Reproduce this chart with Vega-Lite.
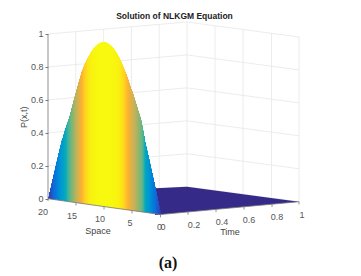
{"$schema":"https://vega.github.io/schema/vega-lite/v6.json","width":313,"height":252,"autosize":{"type":"none"},"padding":{"left":48,"top":24,"right":0,"bottom":0},"background":"white","view":{"stroke":null},
"title":{"text":"Solution of NLKGM Equation","anchor":"middle","dx":-30,"offset":1,"font":"Liberation Sans","fontSize":8.5,"fontWeight":"bold","color":"#222222"},
"datasets":{
"grid":[{"x":48,"x2":187,"v":0,"v2":0.0729},{"x":48,"x2":187,"v":0.2,"v2":0.2729},{"x":48,"x2":187,"v":0.4,"v2":0.4729},{"x":48,"x2":187,"v":0.6,"v2":0.6729},{"x":48,"x2":187,"v":0.8,"v2":0.8729},{"x":48,"x2":187,"v":1,"v2":1.0729},
{"x":187,"x2":299,"v":0.0729,"v2":-0.0182},{"x":187,"x2":299,"v":0.2729,"v2":0.1818},{"x":187,"x2":299,"v":0.4729,"v2":0.3818},{"x":187,"x2":299,"v":0.6729,"v2":0.5818},{"x":187,"x2":299,"v":0.8729,"v2":0.7818},{"x":187,"x2":299,"v":1.0729,"v2":0.9818},
{"x":75.8,"x2":75.8,"v":0.0146,"v2":1.0146},{"x":103.6,"x2":103.6,"v":0.0292,"v2":1.0292},{"x":131.4,"x2":131.4,"v":0.0437,"v2":1.0437},{"x":159.2,"x2":159.2,"v":0.0583,"v2":1.0583},{"x":187,"x2":187,"v":0.0729,"v2":1.0729},
{"x":215,"x2":215,"v":0.0501,"v2":1.0501},{"x":243,"x2":243,"v":0.0274,"v2":1.0274},{"x":271.5,"x2":271.5,"v":0.0046,"v2":1.0046},{"x":299,"x2":299,"v":-0.0182,"v2":0.9818}],
"floor":[{"x":155,"v":0.0632,"v2":-0.099},{"x":187,"v":0.0729,"v2":-0.0808},{"x":299,"v":-0.0182,"v2":-0.0182}],
"axes":[{"x":48,"x2":48,"v":0,"v2":1},{"x":48,"x2":160.5,"v":0,"v2":-0.096},{"x":160.5,"x2":299,"v":-0.096,"v2":-0.0182},
{"x":48,"x2":48,"v":0,"v2":-0.014},{"x":76,"x2":76,"v":-0.024,"v2":-0.041},{"x":104,"x2":104,"v":-0.048,"v2":-0.065},{"x":132,"x2":132,"v":-0.072,"v2":-0.089},{"x":160.5,"x2":160.5,"v":-0.096,"v2":-0.113},
{"x":188,"x2":188,"v":-0.0803,"v2":-0.0973},{"x":216,"x2":216,"v":-0.0647,"v2":-0.0817},{"x":244,"x2":244,"v":-0.049,"v2":-0.066},{"x":272,"x2":272,"v":-0.0334,"v2":-0.0504},{"x":299,"x2":299,"v":-0.0182,"v2":-0.0352}],
"ticks":[{"x":43,"v":-0.0808,"t":"20"},{"x":72,"v":-0.1032,"t":"15"},{"x":100,"v":-0.1233,"t":"10"},{"x":130,"v":-0.1475,"t":"5"},{"x":159.5,"v":-0.1718,"t":"0"},{"x":163,"v":-0.1718,"t":"0"},{"x":194,"v":-0.1597,"t":"0.2"},{"x":222,"v":-0.1415,"t":"0.4"},{"x":249,"v":-0.1263,"t":"0.6"},{"x":277,"v":-0.1111,"t":"0.8"},{"x":302,"v":-0.099,"t":"1"}],
"names":[{"x":98,"v":-0.196,"t":"Space"},{"x":230,"v":-0.2022,"t":"Time"}],
"cap":[{"x":168,"v":-0.3904,"t":"(a)"}],
"face":[
{"x":48,"x2":49,"p":0.014,"v":0.014,"v2":0},{"x":49,"x2":50,"p":0.042,"v":0.041,"v2":-0.001},{"x":50,"x2":51,"p":0.069,"v":0.067,"v2":-0.002},{"x":51,"x2":52,"p":0.097,"v":0.094,"v2":-0.003},{"x":52,"x2":53,"p":0.124,"v":0.12,"v2":-0.004},{"x":53,"x2":54,"p":0.152,"v":0.147,"v2":-0.005},{"x":54,"x2":55,"p":0.179,"v":0.173,"v2":-0.006},{"x":55,"x2":56,"p":0.206,"v":0.2,"v2":-0.006},{"x":56,"x2":57,"p":0.233,"v":0.226,"v2":-0.007},{"x":57,"x2":58,"p":0.26,"v":0.252,"v2":-0.008},
{"x":58,"x2":59,"p":0.287,"v":0.278,"v2":-0.009},{"x":59,"x2":60,"p":0.313,"v":0.303,"v2":-0.01},{"x":60,"x2":61,"p":0.339,"v":0.328,"v2":-0.011},{"x":61,"x2":62,"p":0.365,"v":0.353,"v2":-0.012},{"x":62,"x2":63,"p":0.381,"v":0.369,"v2":-0.012},{"x":63,"x2":64,"p":0.404,"v":0.391,"v2":-0.013},{"x":64,"x2":65,"p":0.426,"v":0.412,"v2":-0.014},{"x":65,"x2":66,"p":0.446,"v":0.431,"v2":-0.015},{"x":66,"x2":67,"p":0.465,"v":0.449,"v2":-0.016},{"x":67,"x2":68,"p":0.484,"v":0.467,"v2":-0.017},
{"x":68,"x2":69,"p":0.502,"v":0.484,"v2":-0.018},{"x":69,"x2":70,"p":0.521,"v":0.503,"v2":-0.018},{"x":70,"x2":71,"p":0.545,"v":0.526,"v2":-0.019},{"x":71,"x2":72,"p":0.571,"v":0.551,"v2":-0.02},{"x":72,"x2":73,"p":0.594,"v":0.573,"v2":-0.021},{"x":73,"x2":74,"p":0.619,"v":0.597,"v2":-0.022},{"x":74,"x2":75,"p":0.643,"v":0.62,"v2":-0.023},{"x":75,"x2":76,"p":0.666,"v":0.642,"v2":-0.024},{"x":76,"x2":77,"p":0.689,"v":0.665,"v2":-0.024},{"x":77,"x2":78,"p":0.711,"v":0.686,"v2":-0.025},
{"x":78,"x2":79,"p":0.734,"v":0.708,"v2":-0.026},{"x":79,"x2":80,"p":0.756,"v":0.729,"v2":-0.027},{"x":80,"x2":81,"p":0.778,"v":0.75,"v2":-0.028},{"x":81,"x2":82,"p":0.8,"v":0.771,"v2":-0.029},{"x":82,"x2":83,"p":0.816,"v":0.786,"v2":-0.03},{"x":83,"x2":84,"p":0.832,"v":0.802,"v2":-0.03},{"x":84,"x2":85,"p":0.847,"v":0.816,"v2":-0.031},{"x":85,"x2":86,"p":0.862,"v":0.83,"v2":-0.032},{"x":86,"x2":87,"p":0.875,"v":0.842,"v2":-0.033},{"x":87,"x2":88,"p":0.888,"v":0.854,"v2":-0.034},
{"x":88,"x2":89,"p":0.9,"v":0.865,"v2":-0.035},{"x":89,"x2":90,"p":0.912,"v":0.876,"v2":-0.036},{"x":90,"x2":91,"p":0.923,"v":0.887,"v2":-0.036},{"x":91,"x2":92,"p":0.934,"v":0.897,"v2":-0.037},{"x":92,"x2":93,"p":0.943,"v":0.905,"v2":-0.038},{"x":93,"x2":94,"p":0.952,"v":0.913,"v2":-0.039},{"x":94,"x2":95,"p":0.96,"v":0.92,"v2":-0.04},{"x":95,"x2":96,"p":0.967,"v":0.926,"v2":-0.041},{"x":96,"x2":97,"p":0.974,"v":0.932,"v2":-0.042},{"x":97,"x2":98,"p":0.98,"v":0.938,"v2":-0.042},
{"x":98,"x2":99,"p":0.985,"v":0.942,"v2":-0.043},{"x":99,"x2":100,"p":0.989,"v":0.945,"v2":-0.044},{"x":100,"x2":101,"p":0.993,"v":0.948,"v2":-0.045},{"x":101,"x2":102,"p":0.996,"v":0.95,"v2":-0.046},{"x":102,"x2":103,"p":0.998,"v":0.951,"v2":-0.047},{"x":103,"x2":104,"p":0.999,"v":0.951,"v2":-0.048},{"x":104,"x2":105,"p":1,"v":0.952,"v2":-0.048},{"x":105,"x2":106,"p":1,"v":0.951,"v2":-0.049},{"x":106,"x2":107,"p":0.999,"v":0.949,"v2":-0.05},{"x":107,"x2":108,"p":0.997,"v":0.946,"v2":-0.051},
{"x":108,"x2":109,"p":0.995,"v":0.943,"v2":-0.052},{"x":109,"x2":110,"p":0.991,"v":0.938,"v2":-0.053},{"x":110,"x2":111,"p":0.987,"v":0.933,"v2":-0.054},{"x":111,"x2":112,"p":0.983,"v":0.929,"v2":-0.054},{"x":112,"x2":113,"p":0.977,"v":0.922,"v2":-0.055},{"x":113,"x2":114,"p":0.971,"v":0.915,"v2":-0.056},{"x":114,"x2":115,"p":0.964,"v":0.907,"v2":-0.057},{"x":115,"x2":116,"p":0.956,"v":0.898,"v2":-0.058},{"x":116,"x2":117,"p":0.948,"v":0.889,"v2":-0.059},{"x":117,"x2":118,"p":0.938,"v":0.878,"v2":-0.06},
{"x":118,"x2":119,"p":0.928,"v":0.868,"v2":-0.06},{"x":119,"x2":120,"p":0.918,"v":0.857,"v2":-0.061},{"x":120,"x2":121,"p":0.906,"v":0.844,"v2":-0.062},{"x":121,"x2":122,"p":0.894,"v":0.831,"v2":-0.063},{"x":122,"x2":123,"p":0.881,"v":0.817,"v2":-0.064},{"x":123,"x2":124,"p":0.868,"v":0.803,"v2":-0.065},{"x":124,"x2":125,"p":0.854,"v":0.788,"v2":-0.066},{"x":125,"x2":126,"p":0.839,"v":0.773,"v2":-0.066},{"x":126,"x2":127,"p":0.824,"v":0.757,"v2":-0.067},{"x":127,"x2":128,"p":0.808,"v":0.74,"v2":-0.068},
{"x":128,"x2":129,"p":0.792,"v":0.723,"v2":-0.069},{"x":129,"x2":130,"p":0.774,"v":0.704,"v2":-0.07},{"x":130,"x2":131,"p":0.757,"v":0.686,"v2":-0.071},{"x":131,"x2":132,"p":0.738,"v":0.666,"v2":-0.072},{"x":132,"x2":133,"p":0.724,"v":0.652,"v2":-0.072},{"x":133,"x2":134,"p":0.708,"v":0.635,"v2":-0.073},{"x":134,"x2":135,"p":0.69,"v":0.616,"v2":-0.074},{"x":135,"x2":136,"p":0.671,"v":0.596,"v2":-0.075},{"x":136,"x2":137,"p":0.652,"v":0.576,"v2":-0.076},{"x":137,"x2":138,"p":0.634,"v":0.557,"v2":-0.077},
{"x":138,"x2":139,"p":0.614,"v":0.536,"v2":-0.078},{"x":139,"x2":140,"p":0.596,"v":0.518,"v2":-0.078},{"x":140,"x2":141,"p":0.577,"v":0.498,"v2":-0.079},{"x":141,"x2":142,"p":0.556,"v":0.476,"v2":-0.08},{"x":142,"x2":143,"p":0.527,"v":0.446,"v2":-0.081},{"x":143,"x2":144,"p":0.496,"v":0.414,"v2":-0.082},{"x":144,"x2":145,"p":0.463,"v":0.38,"v2":-0.083},{"x":145,"x2":146,"p":0.428,"v":0.344,"v2":-0.084},{"x":146,"x2":147,"p":0.403,"v":0.319,"v2":-0.084},{"x":147,"x2":148,"p":0.378,"v":0.293,"v2":-0.085},
{"x":148,"x2":149,"p":0.352,"v":0.266,"v2":-0.086},{"x":149,"x2":150,"p":0.326,"v":0.239,"v2":-0.087},{"x":150,"x2":151,"p":0.3,"v":0.212,"v2":-0.088},{"x":151,"x2":152,"p":0.273,"v":0.184,"v2":-0.089},{"x":152,"x2":153,"p":0.246,"v":0.156,"v2":-0.09},{"x":153,"x2":154,"p":0.219,"v":0.129,"v2":-0.09},{"x":154,"x2":155,"p":0.192,"v":0.101,"v2":-0.091},{"x":155,"x2":156,"p":0.165,"v":0.073,"v2":-0.092},{"x":156,"x2":157,"p":0.138,"v":0.045,"v2":-0.093},{"x":157,"x2":158,"p":0.11,"v":0.016,"v2":-0.094},
{"x":158,"x2":159,"p":0.083,"v":-0.012,"v2":-0.095},{"x":159,"x2":160,"p":0.055,"v":-0.041,"v2":-0.096},{"x":160,"x2":161,"p":0.028,"v":-0.068,"v2":-0.096}
]},
"encoding":{
"x":{"field":"x","type":"quantitative","scale":{"domain":[48,361],"nice":false,"zero":false},"axis":null},
"y":{"field":"v","type":"quantitative","scale":{"domain":[-0.4693,1.0607],"nice":false,"zero":false},"axis":{"values":[0,0.2,0.4,0.6,0.8,1],"labelExpr":"''+datum.value","domain":false,"grid":false,"ticks":true,"tickSize":3,"tickColor":"#777777","labelColor":"#555555","labelFont":"Liberation Sans","labelFontSize":9,"labelPadding":2,"title":"P(x,t)","titleFont":"Liberation Sans","titleFontSize":9,"titleFontWeight":"normal","titleColor":"#444444","titleX":-25,"titleY":92.7,"titleAnchor":null,"titleAlign":"center","titleBaseline":"middle"}}
},
"layer":[
{"data":{"name":"grid"},"mark":{"type":"rule","color":"#e7e7e7","strokeWidth":0.8},"encoding":{"x2":{"field":"x2"},"y2":{"field":"v2"}}},
{"data":{"name":"floor"},"mark":{"type":"area","color":"#352a87","orient":"vertical"},"encoding":{"y2":{"field":"v2"}}},
{"data":{"name":"face"},"mark":{"type":"rect","strokeWidth":0},"encoding":{"x2":{"field":"x2"},"y2":{"field":"v2"},"color":{"field":"p","type":"quantitative","legend":null,"scale":{"domain":[0,0.03,0.2,0.42,0.52,0.68,0.8,0.86,0.92,1],"range":["#352a87","#2a3fb8","#0d75dc","#10a4c4","#55b590","#c0b060","#fdb030","#fdd420","#f8f010","#f8fa0e"]}}}},
{"data":{"name":"axes"},"mark":{"type":"rule","color":"#777777","strokeWidth":0.8},"encoding":{"x2":{"field":"x2"},"y2":{"field":"v2"}}},
{"data":{"name":"ticks"},"mark":{"type":"text","font":"Liberation Sans","fontSize":9,"color":"#555555"},"encoding":{"text":{"field":"t"}}},
{"data":{"name":"names"},"mark":{"type":"text","font":"Liberation Sans","fontSize":9,"color":"#444444"},"encoding":{"text":{"field":"t"}}},
{"data":{"name":"cap"},"mark":{"type":"text","font":"Liberation Serif","fontSize":16,"fontWeight":"bold","color":"#111111"},"encoding":{"text":{"field":"t"}}}
]}
